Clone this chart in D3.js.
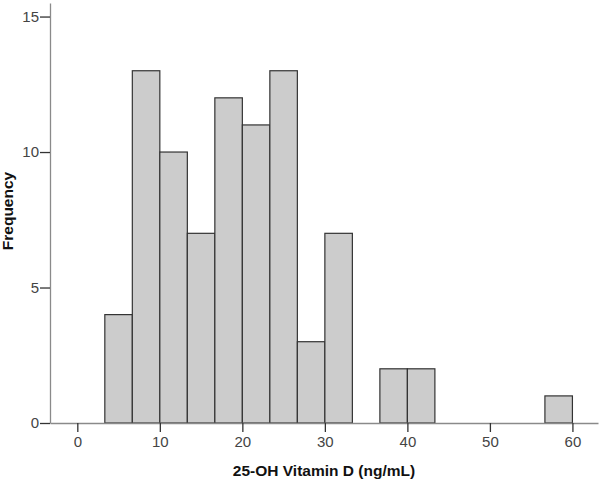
<!DOCTYPE html>
<html>
<head>
<meta charset="utf-8">
<script src="https://d3js.org/d3.v7.min.js"></script>
<style>
    body { margin: 0; background: #fff; }
    svg text { font-family: "Liberation Sans", Arial, sans-serif; }
</style>
</head>
<body>
<div id="chart"></div>
<script>
// bins are 10/3 ng/mL wide, starting at 10/3
const binWidth = 10 / 3;
const binStarts = [1, 2, 3, 4, 5, 6, 7, 8, 9, 10, 11, 12, 13, 14, 15, 16, 17];
const counts    = [4, 13, 10, 7, 12, 11, 13, 3, 7, 0, 2, 2, 0, 0, 0, 0, 1];
const xTicks = [0, 10, 20, 30, 40, 50, 60];
const yTicks = [0, 5, 10, 15];

const width = 601, height = 480;

const svg = d3.select("#chart")
    .append("svg")
    .attr("width", width)
    .attr("height", height);

const x = d3.scaleLinear()
    .domain([-3.31, 63.1])
    .range([50, 598]);

const y = d3.scaleLinear()
    .domain([0, 15.5])
    .range([423, 3]);

const bins = binStarts.map((b, i) => ({ x0: b * binWidth, x1: (b + 1) * binWidth, n: counts[i] }))
    .filter(d => d.n > 0);

// bars
svg.append("g")
    .selectAll("rect")
    .data(bins)
    .enter()
    .append("rect")
    .attr("x", d => x(d.x0))
    .attr("y", d => y(d.n))
    .attr("width", d => x(d.x1) - x(d.x0))
    .attr("height", d => y(0) - y(d.n))
    .style("fill", "#cccccc")
    .style("stroke", "#333333")
    .style("stroke-width", 1.2);

// x axis
const xAxis = svg.append("g")
    .attr("transform", "translate(0," + y(0) + ")")
    .call(d3.axisBottom(x).tickValues(xTicks).tickSize(9).tickPadding(4).tickSizeOuter(0));

// y axis
const yAxis = svg.append("g")
    .attr("transform", "translate(" + x.range()[0] + ",0)")
    .call(d3.axisLeft(y).tickValues(yTicks).tickSize(10).tickPadding(1).tickSizeOuter(0));

[xAxis, yAxis].forEach(g => {
    g.select(".domain").attr("stroke", "#8a8a8a").attr("stroke-width", 1.3);
    g.selectAll(".tick line").attr("stroke", "#333333").attr("stroke-width", 1.3);
    g.selectAll(".tick text")
        .attr("fill", "#444444")
        .style("font-size", "15px")
        .style("font-family", "'Liberation Sans', Arial, sans-serif");
});

// labels
svg.append("text")
    .attr("text-anchor", "middle")
    .attr("x", 324)
    .attr("y", 476)
    .style("font-size", "15.5px")
    .style("font-weight", "bold")
    .attr("fill", "#111")
    .text("25-OH Vitamin D (ng/mL)");

svg.append("text")
    .attr("text-anchor", "middle")
    .attr("transform", "translate(13,211) rotate(-90)")
    .style("font-size", "15.5px")
    .style("font-weight", "bold")
    .attr("fill", "#111")
    .text("Frequency");
</script>
</body>
</html>
